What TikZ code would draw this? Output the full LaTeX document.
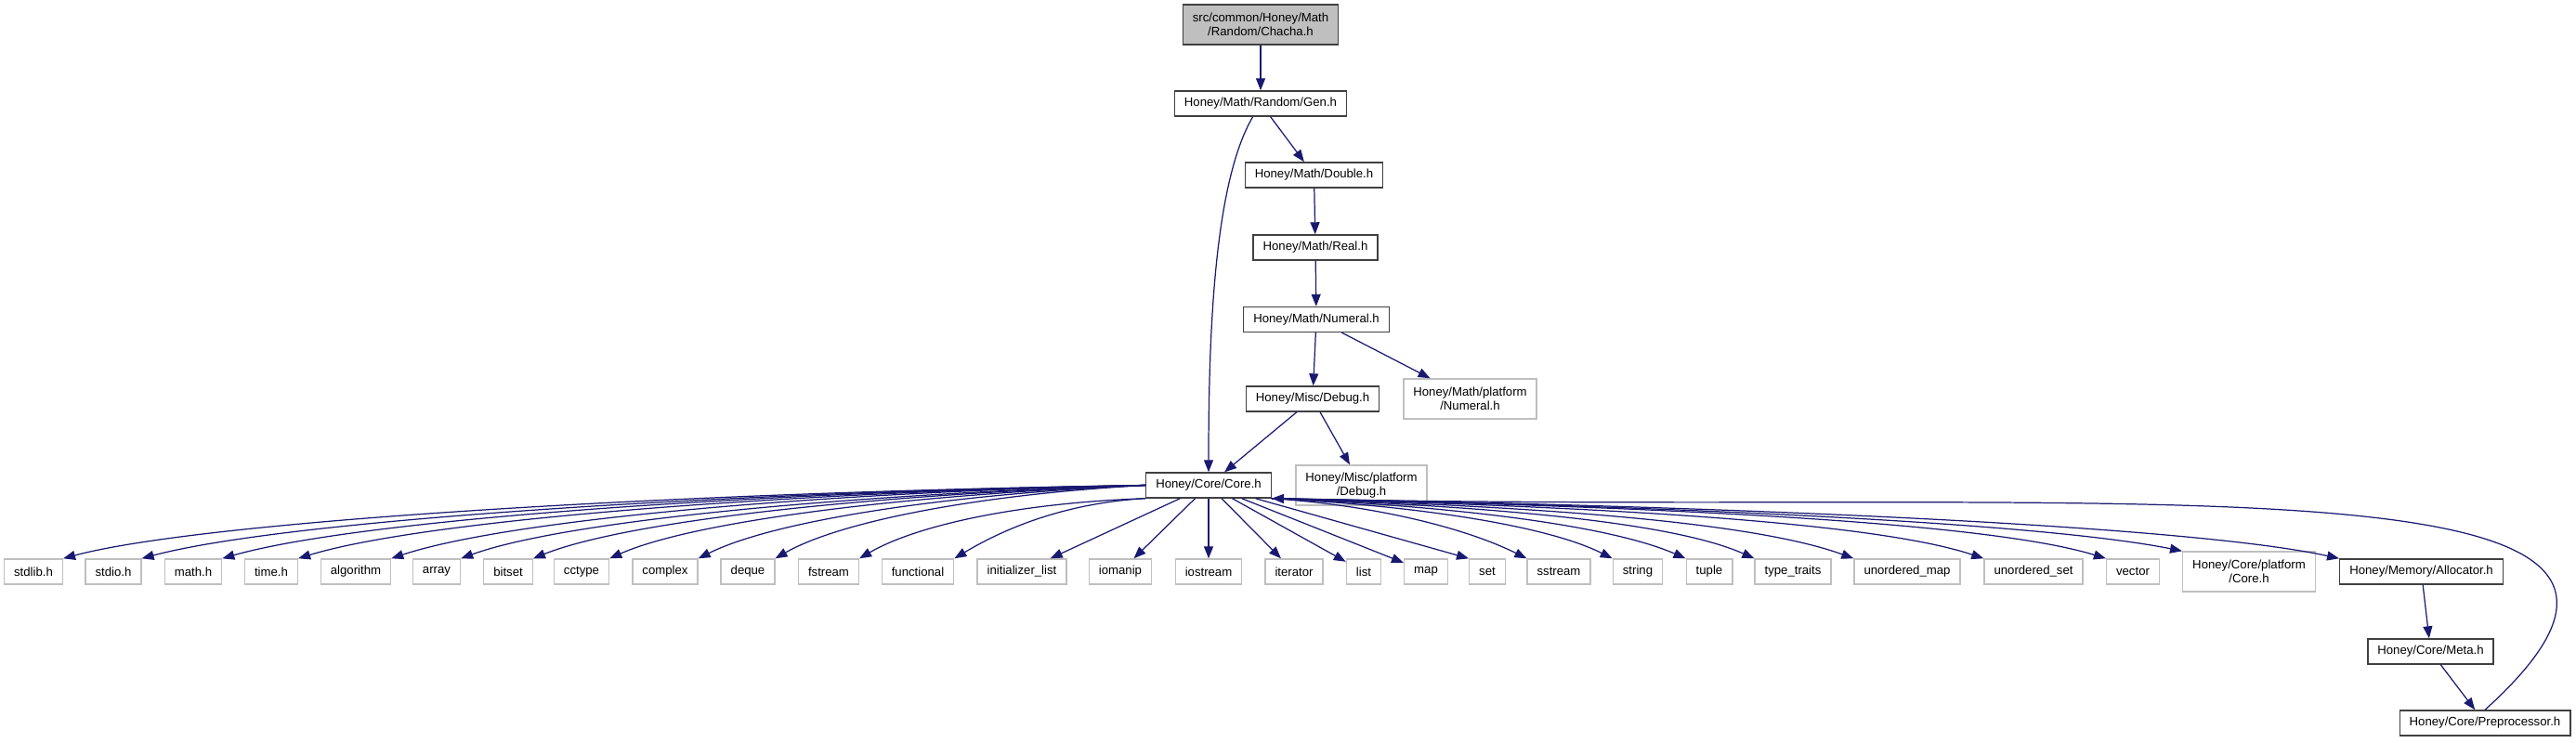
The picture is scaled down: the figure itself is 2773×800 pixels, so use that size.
\documentclass[tikz,border=0pt]{standalone}
\usepackage{fontspec}
\setmainfont{Liberation Sans}
\usepackage{tikz}
\usetikzlibrary{arrows.meta, positioning, calc}
\definecolor{incNavy}{HTML}{191970}
\definecolor{incGrey}{HTML}{BFBFBF}
\definecolor{incDark}{HTML}{404040}
\tikzset{
  incfile/.style={draw=incDark, fill=white, line width=0.8pt, align=center,
                  inner xsep=0.21cm, inner ysep=0pt, minimum height=0.54cm,
                  font=\fontsize{7.5}{8.5}\selectfont},
  incsys/.style={incfile, draw=incGrey},
  incroot/.style={incfile, fill=incGrey},
  inctwo/.style={minimum height=0.86cm},
  incedge/.style={draw=incNavy, line width=0.7pt, -{Triangle[length=0.26cm, width=0.2cm]}},
}

\begin{document}
\begin{tikzpicture}[x=0.02cm, y=-0.02cm]
\useasboundingbox (0,0) rectangle (2773,800);

% chain down from the root file
\node[incroot, inctwo] (cha) at (1357,26.5) {src/common/Honey/Math\\/Random/Chacha.h};
\node[incfile] (gen) at (1357,111.5) {Honey/Math/Random/Gen.h};
\node[incfile] (dbl) at (1414.5,188.5) {Honey/Math/Double.h};
\node[incfile] (real) at (1416,266.5) {Honey/Math/Real.h};
\node[incfile] (num) at (1417,344) {Honey/Math/Numeral.h};
\node[incfile] (dbg) at (1413,429.5) {Honey/Misc/Debug.h};
\node[incsys, inctwo] (nplat) at (1582.5,429.5) {Honey/Math/platform\\/Numeral.h};
\node[incfile] (core) at (1301,522.5) {Honey/Core/Core.h};
\node[incsys, inctwo] (dplat) at (1465.5,522.5) {Honey/Misc/platform\\/Debug.h};

% system headers
\node[incsys] (stdlib) at (36,615.5) {stdlib.h};
\node[incsys] (stdio) at (122,615.5) {stdio.h};
\node[incsys] (math) at (208,615.5) {math.h};
\node[incsys] (time) at (292,615.5) {time.h};
\node[incsys] (algo) at (383,615.5) {algorithm};
\node[incsys] (array) at (470,615.5) {array};
\node[incsys] (bitset) at (547,615.5) {bitset};
\node[incsys] (cctype) at (626,615.5) {cctype};
\node[incsys] (cplx) at (716,615.5) {complex};
\node[incsys] (deque) at (805,615.5) {deque};
\node[incsys] (fstream) at (892,615.5) {fstream};
\node[incsys] (func) at (988,615.5) {functional};
\node[incsys] (ilist) at (1100,615.5) {initializer\_list};
\node[incsys] (iomanip) at (1206,615.5) {iomanip};
\node[incsys] (iostream) at (1301,615.5) {iostream};
\node[incsys] (iter) at (1393,615.5) {iterator};
\node[incsys] (list) at (1468,615.5) {list};
\node[incsys] (map) at (1535,615.5) {map};
\node[incsys] (set) at (1601,615.5) {set};
\node[incsys] (sstream) at (1678,615.5) {sstream};
\node[incsys] (string) at (1763,615.5) {string};
\node[incsys] (tuple) at (1840,615.5) {tuple};
\node[incsys] (traits) at (1930,615.5) {type\_traits};
\node[incsys] (umap) at (2053,615.5) {unordered\_map};
\node[incsys] (uset) at (2189,615.5) {unordered\_set};
\node[incsys] (vector) at (2296,615.5) {vector};
\node[incsys, inctwo] (cplat) at (2421,615.5) {Honey/Core/platform\\/Core.h};
\node[incfile] (alloc) at (2606.5,615.5) {Honey/Memory/Allocator.h};
\node[incfile] (meta) at (2616.5,701.5) {Honey/Core/Meta.h};
\node[incfile] (pre) at (2675,778.5) {Honey/Core/Preprocessor.h};

% upper includes
\draw[incedge] (cha) -- (gen);
\draw[incedge] (gen) -- (dbl);
\draw[incedge] (gen) .. controls +(-50,85) and +(0,-150) .. (core.north);
\draw[incedge] (dbl) -- (real);
\draw[incedge] (real) -- (num);
\draw[incedge] (num) -- (dbg);
\draw[incedge] (num) -- (nplat);
\draw[incedge] (dbg) -- (core);
\draw[incedge] (dbg) -- (dplat);

% Core.h to the left
\draw[incedge] (core.west) .. controls +(-520,8) and +(150,-40) .. (stdlib.north east);
\draw[incedge] (core.west) .. controls +(-480,8) and +(150,-40) .. (stdio.north east);
\draw[incedge] (core.west) .. controls +(-450,8) and +(140,-40) .. (math.north east);
\draw[incedge] (core.west) .. controls +(-410,8) and +(130,-40) .. (time.north east);
\draw[incedge] (core.west) .. controls +(-370,8) and +(120,-40) .. (algo.north east);
\draw[incedge] (core.west) .. controls +(-330,10) and +(110,-40) .. (array.north east);
\draw[incedge] (core.west) .. controls +(-300,10) and +(100,-40) .. (bitset.north east);
\draw[incedge] (core.west) .. controls +(-260,10) and +(90,-40) .. (cctype.north east);
\draw[incedge] (core.west) .. controls +(-220,10) and +(80,-40) .. (cplx.north east);
\draw[incedge] (core.west) .. controls +(-180,10) and +(70,-40) .. (deque.north east);
\draw[incedge] (core.south west) .. controls +(-140,5) and +(60,-35) .. (fstream.north east);
\draw[incedge] (core.south west) .. controls +(-90,5) and +(50,-30) .. (func.north east);

% Core.h straight down
\draw[incedge] (core) -- (ilist);
\draw[incedge] (core) -- (iomanip);
\draw[incedge] (core) -- (iostream);
\draw[incedge] (core) -- (iter);
\draw[incedge] (core) -- (list);
\draw[incedge] (core) -- (map);
\draw[incedge] (core) -- (set.north west);

% Core.h to the right
\draw[incedge] (core.south east) .. controls +(120,8) and +(-60,-30) .. (sstream.north west);
\draw[incedge] (core.south east) .. controls +(160,8) and +(-70,-35) .. (string.north west);
\draw[incedge] (core.south east) .. controls +(200,8) and +(-80,-35) .. (tuple.north west);
\draw[incedge] (core.south east) .. controls +(230,8) and +(-90,-40) .. (traits.north west);
\draw[incedge] (core.south east) .. controls +(280,8) and +(-110,-40) .. (umap.north west);
\draw[incedge] (core.south east) .. controls +(340,8) and +(-120,-40) .. (uset.north west);
\draw[incedge] (core.south east) .. controls +(400,8) and +(-130,-40) .. (vector.north west);
\draw[incedge] (core.south east) .. controls +(440,8) and +(-150,-30) .. (cplat.north west);
\draw[incedge] (core.south east) .. controls +(500,8) and +(-160,-35) .. (alloc.north west);

% memory branch and the way back
\draw[incedge] (alloc) -- (meta);
\draw[incedge] (meta) -- (pre);
\draw[incedge] (pre.north) .. controls +(315,-285) and +(931,20) .. (core.south east);
\end{tikzpicture}
\end{document}
